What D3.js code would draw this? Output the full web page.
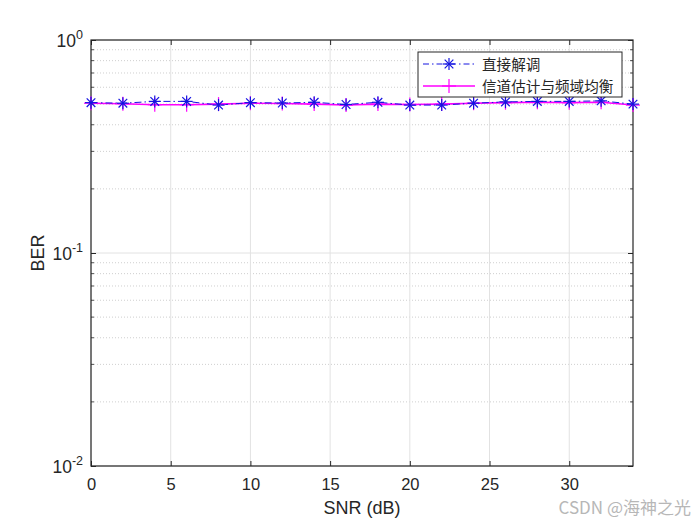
<!DOCTYPE html>
<html><head><meta charset="utf-8">
<script src="https://cdn.jsdelivr.net/npm/d3@7"></script>
<style>body{margin:0;background:#fff}svg{display:block}</style>
</head><body>
<svg id="c" width="700" height="525"></svg>
<script>
const snr = [0,2,4,6,8,10,12,14,16,18,20,22,24,26,28,30,32,34];
const berDirect = [0.508,0.505,0.515,0.515,0.495,0.508,0.506,0.510,0.498,0.510,0.495,0.495,0.505,0.512,0.515,0.515,0.518,0.500];
const berEq = [0.505,0.502,0.497,0.497,0.500,0.505,0.503,0.500,0.495,0.500,0.498,0.500,0.505,0.508,0.510,0.508,0.510,0.495];
const xTicks = [0,5,10,15,20,25,30];
const yTickExp = [0,-1,-2];
const seriesNames = ["直接解调","信道估计与频域均衡"];

const svg = d3.select("#c");
const L=91,R=633,T=40,B=466;
const x = d3.scaleLinear().domain([0,34]).range([L,R]);
const y = d3.scaleLog().domain([0.01,1]).range([B,T]);
const font = "Arial, 'Liberation Sans', Helvetica, sans-serif";

svg.append("rect").attr("x",L).attr("y",T).attr("width",R-L).attr("height",B-T).attr("fill","#fff");

// minor grid
const minors=[];
for(let e=-2;e<0;e++) for(let m=2;m<=9;m++) minors.push(m*Math.pow(10,e));
svg.append("g").selectAll("line").data(minors).join("line")
  .attr("x1",L).attr("x2",R).attr("y1",d=>y(d)).attr("y2",d=>y(d))
  .attr("stroke","#cfcfcf").attr("stroke-width",1).attr("stroke-dasharray","1,2");
// major grid
svg.append("g").selectAll("line").data(xTicks).join("line")
  .attr("x1",d=>x(d)).attr("x2",d=>x(d)).attr("y1",T).attr("y2",B)
  .attr("stroke","#e2e2e2").attr("stroke-width",1);
svg.append("g").selectAll("line").data(yTickExp).join("line")
  .attr("x1",L).attr("x2",R).attr("y1",d=>y(Math.pow(10,d))).attr("y2",d=>y(Math.pow(10,d)))
  .attr("stroke","#e2e2e2").attr("stroke-width",1);

// axes
const gx = svg.append("g").attr("transform",`translate(0,${B})`)
  .call(d3.axisBottom(x).tickValues(xTicks).tickSize(-5).tickPadding(12).tickFormat(d3.format("d")));
const gxt = svg.append("g").attr("transform",`translate(0,${T})`)
  .call(d3.axisTop(x).tickValues(xTicks).tickSize(-5).tickFormat(""));
const gy = svg.append("g").attr("transform",`translate(${L},0)`)
  .call(d3.axisLeft(y).tickValues(yTickExp.map(e=>Math.pow(10,e))).tickSize(-5).tickFormat(""));
const gyr = svg.append("g").attr("transform",`translate(${R},0)`)
  .call(d3.axisRight(y).tickValues(yTickExp.map(e=>Math.pow(10,e))).tickSize(-5).tickFormat(""));
// minor y ticks
[ [L,1],[R,-1] ].forEach(([xx,dir])=>{
  svg.append("g").selectAll("line").data(minors).join("line")
    .attr("x1",xx).attr("x2",xx+dir*3).attr("y1",d=>y(d)).attr("y2",d=>y(d))
    .attr("stroke","#262626").attr("stroke-width",0.8);
});
[gx,gxt,gy,gyr].forEach(g=>{
  g.select(".domain").remove();
  g.selectAll(".tick line").attr("stroke","#262626");
  g.selectAll("text").attr("font-family",font).attr("font-size",16.5).attr("fill","#262626");
});
svg.append("rect").attr("x",L).attr("y",T).attr("width",R-L).attr("height",B-T)
  .attr("fill","none").attr("stroke","#262626").attr("stroke-width",1.2);

// y tick labels with superscripts
const yl = svg.append("g");
yTickExp.forEach(e=>{
  const t = yl.append("text").attr("x",L-8).attr("y",y(Math.pow(10,e))+7)
    .attr("text-anchor","end").attr("font-family",font).attr("font-size",17.5).attr("fill","#262626");
  t.append("tspan").text("10");
  t.append("tspan").attr("dy",-8).attr("font-size",12.5).text(String(e));
});

// labels
svg.append("text").attr("x",(L+R)/2).attr("y",514).attr("text-anchor","middle")
  .attr("font-family",font).attr("font-size",18).attr("fill","#262626").text("SNR (dB)");
svg.append("text").attr("transform",`translate(44,${(T+B)/2}) rotate(-90)`).attr("text-anchor","middle")
  .attr("font-family",font).attr("font-size",18).attr("fill","#262626").text("BER");

// series
const cDirect="#1414e0", cEq="#ff00ff";
const line = d3.line().x((d,i)=>x(snr[i])).y(d=>y(d));
const plot = svg.append("g");
plot.append("path").datum(berEq).attr("d",line).attr("fill","none").attr("stroke",cEq).attr("stroke-width",1.6);
plot.append("path").datum(berDirect).attr("d",line).attr("fill","none").attr("stroke",cDirect)
  .attr("stroke-width",1).attr("stroke-dasharray","7,3,1.5,3");
function plus(g,cx,cy,s,c,w){
  g.append("line").attr("x1",cx-s).attr("x2",cx+s).attr("y1",cy).attr("y2",cy).attr("stroke",c).attr("stroke-width",w);
  g.append("line").attr("x1",cx).attr("x2",cx).attr("y1",cy-s).attr("y2",cy+s).attr("stroke",c).attr("stroke-width",w);
}
function star(g,cx,cy,s,c,w){
  plus(g,cx,cy,s,c,w);
  const d=s*0.72;
  g.append("line").attr("x1",cx-d).attr("x2",cx+d).attr("y1",cy-d).attr("y2",cy+d).attr("stroke",c).attr("stroke-width",w);
  g.append("line").attr("x1",cx-d).attr("x2",cx+d).attr("y1",cy+d).attr("y2",cy-d).attr("stroke",c).attr("stroke-width",w);
}
berEq.forEach((v,i)=>plus(plot,x(snr[i]),y(v),7,cEq,1.2));
berDirect.forEach((v,i)=>star(plot,x(snr[i]),y(v),6,cDirect,1.2));

// legend
const lg = svg.append("g");
lg.append("rect").attr("x",418).attr("y",52).attr("width",204).attr("height",45)
  .attr("fill","#fff").attr("stroke","#262626").attr("stroke-width",1);
const ly=[64,86];
lg.append("line").attr("x1",423).attr("x2",475).attr("y1",ly[0]).attr("y2",ly[0])
  .attr("stroke",cDirect).attr("stroke-width",1).attr("stroke-dasharray","6,3,1.5,3");
star(lg,449,ly[0],6,cDirect,1.2);
lg.append("line").attr("x1",423).attr("x2",475).attr("y1",ly[1]).attr("y2",ly[1]).attr("stroke",cEq).attr("stroke-width",1.6);
plus(lg,449,ly[1],7,cEq,1.2);
seriesNames.forEach((n,i)=>{
  lg.append("text").attr("x",482).attr("y",ly[i]+5.5).attr("font-family","'Noto Sans CJK SC', sans-serif")
    .attr("font-size",14.6).attr("fill","#262626").text(n);
});

// watermark
svg.append("text").attr("x",691).attr("y",514).attr("text-anchor","end")
  .attr("font-family","'Noto Sans CJK SC', Arial, sans-serif").attr("font-size",17)
  .attr("fill","#999").attr("opacity",0.7).text("CSDN @海神之光");
</script>
</body></html>
